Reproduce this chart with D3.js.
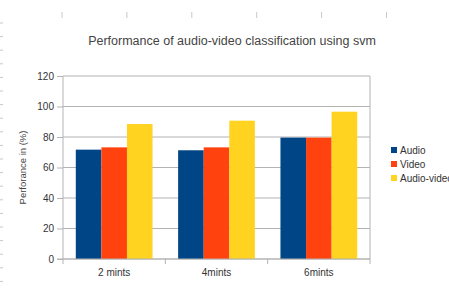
<!DOCTYPE html>
<html>
<head>
<meta charset="utf-8">
<script src="https://cdn.jsdelivr.net/npm/d3@7"></script>
<style>
  body { margin: 0; background: #fff; }
  text { font-family: "Liberation Sans", Arial, sans-serif; }
</style>
</head>
<body>
<svg id="chart"></svg>
<script>
// chart values
const categories = ["2 mints", "4mints", "6mints"];
const seriesNames = ["Audio", "Video", "Audio-video"];
const audio = [71.7, 71.3, 79.6];
const video = [73.2, 73.2, 79.6];
const audioVideo = [88.5, 90.7, 96.6];
const yTicks = [0, 20, 40, 60, 80, 100, 120];
const colors = ["#004586", "#ff420e", "#ffd320"];

const width = 449, height = 294;
let margin = {top: 76, right: 79, bottom: 35, left: 63};
let plotW = width - margin.left - margin.right,
    plotH = height - margin.top - margin.bottom;

const svg = d3.select("#chart")
  .attr("width", width)
  .attr("height", height);

// spreadsheet leftovers: column ticks on top and row dashes on the left
svg.selectAll(".colTick")
  .data(d3.range(6))
  .enter().append("line")
  .attr("x1", i => 62 + i * 64.9).attr("x2", i => 62 + i * 64.9)
  .attr("y1", 12).attr("y2", 18)
  .attr("stroke", "#c8c8c8");
svg.selectAll(".rowTick")
  .data(d3.range(20))
  .enter().append("line")
  .attr("x1", 0).attr("x2", 3)
  .attr("y1", i => 23 + i * 13.6).attr("y2", i => 23 + i * 13.6)
  .attr("stroke", "#c8c8c8");

svg.append("text")
  .attr("x", 232).attr("y", 45)
  .attr("text-anchor", "middle")
  .attr("fill", "#444")
  .style("font-size", "12.5px")
  .text("Performance of audio-video classification using svm");

let g = svg.append("g").attr("transform", `translate(${margin.left},${margin.top})`);

let x = d3.scaleBand().domain(categories).range([0, plotW]).paddingInner(0.25).paddingOuter(0.125);
let xs = d3.scaleBand().domain(seriesNames).range([0, x.bandwidth()]);
let y = d3.scaleLinear().domain([0, 120]).range([plotH, 0]);

// grid
g.selectAll(".grid")
  .data(yTicks)
  .enter().append("line")
  .attr("x1", 0).attr("x2", plotW)
  .attr("y1", d => y(d)).attr("y2", d => y(d))
  .attr("stroke", "#b3b3b3");
g.append("line")
  .attr("x1", plotW).attr("x2", plotW)
  .attr("y1", 0).attr("y2", plotH)
  .attr("stroke", "#b3b3b3");

let rows = categories.map((c, i) => ({cat: c, vals: [audio[i], video[i], audioVideo[i]]}));

g.selectAll(".grp")
  .data(rows)
  .enter().append("g")
  .attr("transform", d => `translate(${x(d.cat)},0)`)
  .selectAll("rect")
  .data(d => d.vals.map((v, j) => ({name: seriesNames[j], v: v, j: j})))
  .enter().append("rect")
  .attr("x", d => xs(d.name))
  .attr("width", xs.bandwidth())
  .attr("y", d => y(d.v))
  .attr("height", d => plotH - y(d.v))
  .attr("fill", d => colors[d.j]);

// y axis
let yAxis = g.append("g")
  .call(d3.axisLeft(y).tickValues(yTicks).tickSize(6).tickPadding(3));
yAxis.select(".domain").attr("stroke", "#b3b3b3").attr("d", `M-6,${plotH}H0V0`);
yAxis.selectAll(".tick line").attr("stroke", "#b3b3b3");
yAxis.selectAll("text").attr("fill", "#333").style("font-size", "10px");

// x axis, ticks between categories
let xAxis = g.append("g").attr("transform", `translate(0,${plotH})`);
xAxis.append("line").attr("x1", 0).attr("x2", plotW).attr("stroke", "#b3b3b3");
xAxis.selectAll(".sep")
  .data(d3.range(categories.length + 1))
  .enter().append("line")
  .attr("x1", i => i * x.step()).attr("x2", i => i * x.step())
  .attr("y1", 0).attr("y2", 5)
  .attr("stroke", "#b3b3b3");
xAxis.selectAll(".lbl")
  .data(categories)
  .enter().append("text")
  .attr("x", d => x(d) + x.bandwidth() / 2)
  .attr("y", 17)
  .attr("text-anchor", "middle")
  .attr("fill", "#333")
  .style("font-size", "10px")
  .text(d => d);

svg.append("text")
  .attr("transform", `translate(26,${margin.top + plotH / 2}) rotate(-90)`)
  .attr("text-anchor", "middle")
  .attr("fill", "#444")
  .style("font-size", "9.5px")
  .text("Perforance in (%)");

// legend
let legend = svg.append("g").attr("transform", "translate(391,147)");
seriesNames.forEach((n, i) => {
  legend.append("rect")
    .attr("x", 0).attr("y", i * 14)
    .attr("width", 6).attr("height", 6)
    .attr("fill", colors[i]);
  legend.append("text")
    .attr("x", 9).attr("y", i * 14 + 7)
    .attr("fill", "#333")
    .style("font-size", "10px")
    .text(n);
});
</script>
</body>
</html>
